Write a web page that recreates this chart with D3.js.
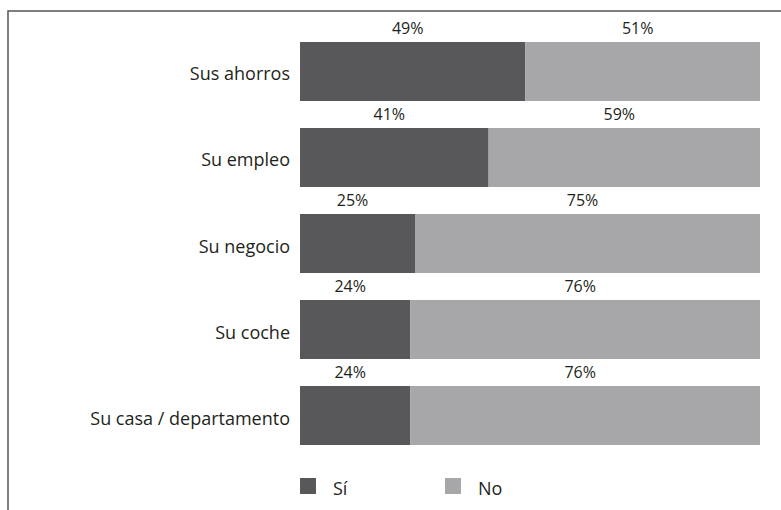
<!DOCTYPE html>
<html>
<head>
<meta charset="utf-8">
<script src="https://cdn.jsdelivr.net/npm/d3@7"></script>
<style>
  body { margin: 0; background: #fff; }
  svg text { font-family: "Open Sans", Lato, sans-serif; fill: #231f20; }
</style>
</head>
<body>
<div id="chart"></div>
<script>
// datos
var categories = ['Sus ahorros', 'Su empleo', 'Su negocio', 'Su coche', 'Su casa / departamento'];
var si = [49, 41, 25, 24, 24];
var no = [51, 59, 75, 76, 76];
var seriesNames = ['Sí', 'No'];
var colors = ['#58585a', '#a7a7aa'];

var W = 781, H = 510;

var svg = d3.select('#chart').append('svg')
    .attr('width', W)
    .attr('height', H);

// marco (arriba e izquierda)
svg.append('path')
    .attr('d', 'M8,' + H + 'V11H' + W)
    .attr('fill', 'none')
    .attr('stroke', '#555')
    .attr('stroke-width', 1.5);

var x = d3.scaleLinear().domain([0, 100]).range([300, 760]);
var y = d3.scaleBand().domain(categories).range([42, 445]).paddingInner(0.314).paddingOuter(0);

var rows = categories.map(function (c, i) {
    return {cat: c, vals: [si[i], no[i]]};
});

var g = svg.selectAll('g.row').data(rows).enter().append('g').attr('class', 'row');

g.each(function (d) {
    var el = d3.select(this), x0 = 0;
    d.vals.forEach(function (v, k) {
        var a = x(x0), b = x(x0 + v);
        el.append('rect')
            .attr('x', a)
            .attr('y', y(d.cat))
            .attr('width', b - a)
            .attr('height', y.bandwidth())
            .attr('fill', colors[k]);
        el.append('text')
            .attr('x', (a + b) / 2 - 5)
            .attr('y', y(d.cat) - 8)
            .attr('text-anchor', 'middle')
            .style('font-size', '16px')
            .text(v + '%');
        x0 += v;
    });
    // etiqueta de categoría
    el.append('text')
        .attr('x', 290)
        .attr('y', y(d.cat) + y.bandwidth() / 2 + 9)
        .attr('text-anchor', 'end')
        .style('font-size', '18px')
        .text(d.cat);
});

// leyenda
var legendX = [300, 445];
var leg = svg.selectAll('g.leg').data(seriesNames).enter().append('g').attr('class', 'leg')
    .attr('transform', function (d, i) { return 'translate(' + legendX[i] + ',478)'; });
leg.append('rect').attr('width', 16).attr('height', 16)
    .attr('fill', function (d, i) { return colors[i]; });
leg.append('text').attr('x', 33).attr('y', 17)
    .style('font-size', '18px')
    .text(function (d) { return d; });
</script>
</body>
</html>
